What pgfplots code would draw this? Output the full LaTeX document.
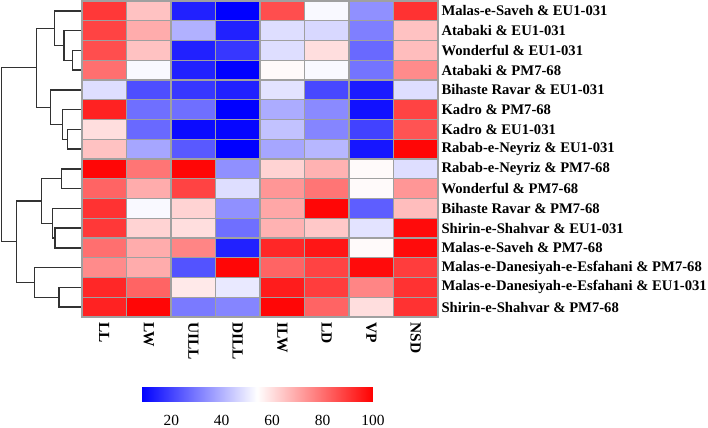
\documentclass[border=0pt]{standalone}
\usepackage{pgfplots}
\pgfplotsset{compat=1.18}
\usepackage{fontspec}
\setmainfont{Liberation Serif}
\definecolor{cellgrid}{RGB}{160,160,160}
\definecolor{dendro}{RGB}{50,50,50}
\begin{document}
\begin{tikzpicture}
\path[use as bounding box] (0,0) rectangle (708bp,428bp);
% dendrogram
\begin{axis}[
  at={(0bp,111bp)}, anchor=south west,
  scale only axis, width=82bp, height=316bp,
  xmin=0, xmax=82, ymin=0.5, ymax=16.5, y dir=reverse,
  hide axis, clip=false, unbounded coords=jump]
\addplot[dendro, line width=1.3bp] coordinates {
(82,3) (72.7,3) (72.7,4) (82,4) (nan,nan)
(82,2) (64,2) (64,3.5) (72.7,3.5) (nan,nan)
(82,1) (54.3,1) (54.3,2.75) (64,2.75) (nan,nan)
(82,7) (67.7,7) (67.7,8) (82,8) (nan,nan)
(82,6) (62.3,6) (62.3,7.5) (67.7,7.5) (nan,nan)
(82,5) (50.7,5) (50.7,6.75) (62.3,6.75) (nan,nan)
(54.3,1.875) (36.7,1.875) (36.7,5.875) (50.7,5.875) (nan,nan)
(82,9) (61.7,9) (61.7,10) (82,10) (nan,nan)
(82,12) (55,12) (55,13) (82,13) (nan,nan)
(82,11) (52.3,11) (52.3,12.5) (55,12.5) (nan,nan)
(61.7,9.5) (41.7,9.5) (41.7,11.75) (52.3,11.75) (nan,nan)
(82,15) (59,15) (59,16) (82,16) (nan,nan)
(82,14) (34.3,14) (34.3,15.5) (59,15.5) (nan,nan)
(41.7,10.625) (16.7,10.625) (16.7,14.75) (34.3,14.75) (nan,nan)
(36.7,3.875) (1.7,3.875) (1.7,12.6875) (16.7,12.6875)
};
\end{axis}
% heatmap
\begin{axis}[
  at={(82bp,111bp)}, anchor=south west,
  scale only axis, width=356bp, height=316bp,
  xmin=-0.5, xmax=7.5, ymin=0.5, ymax=16.5, y dir=reverse,
  colormap={bwr}{rgb255=(0,0,255) rgb255=(255,255,255) rgb255=(255,0,0)},
  point meta min=8, point meta max=100,
  axis on top,
  axis line style={cellgrid, line width=1.2bp},
  xtick={0,...,7},
  xticklabels={LL,LW,UILL,DILL,ILW,LD,VP,NSD},
  xticklabel style={rotate=-90, anchor=west, font=\fontsize{15.5}{17}\selectfont\bfseries},
  xticklabel shift=2bp,
  ytick={1,...,16},
  yticklabels={Malas-e-Saveh \& EU1-031, Atabaki \& EU1-031, Wonderful \& EU1-031, Atabaki \& PM7-68, Bihaste Ravar \& EU1-031, Kadro \& PM7-68, Kadro \& EU1-031, Rabab-e-Neyriz \& EU1-031, Rabab-e-Neyriz \& PM7-68, Wonderful \& PM7-68, Bihaste Ravar \& PM7-68, Shirin-e-Shahvar \& EU1-031, Malas-e-Saveh \& PM7-68, Malas-e-Danesiyah-e-Esfahani \& PM7-68, Malas-e-Danesiyah-e-Esfahani \& EU1-031, Shirin-e-Shahvar \& PM7-68},
  yticklabel pos=right,
  yticklabel style={anchor=west, font=\fontsize{14.7}{16}\selectfont\bfseries},
  major tick length=0, minor tick length=0,
  tick style={draw=none},
  minor xtick={0.5,1.5,...,6.5},
  minor ytick={1.5,2.5,...,15.5},
  xminorgrids, yminorgrids,
  minor grid style={cellgrid, line width=1.2bp},
  colorbar horizontal,
  colorbar style={
    at={(parent axis.south west)}, anchor=north west,
    xshift=59bp, yshift=-60bp,
    scale only axis, width=232bp, height=16bp,
    axis line style={draw=none},
    xtick={20,40,60,80,100},
    xticklabels={20,40,60,80,100},
    xticklabel style={rotate=0, anchor=north, font=\fontsize{15.5}{17}\selectfont},
    xticklabel shift=10bp,
    xticklabel pos=bottom,
    ytick=\empty, minor xtick={}, minor ytick={},
    major tick length=0, tick style={draw=none},
    /pgf/number format/assume math mode=true,
  },
]
\addplot[matrix plot*, mesh/cols=8, point meta=explicit] table[x=x, y=y, meta=v] {
x y v
0 1 90
1 1 65
2 1 14
3 1 8
4 1 86
5 1 53
6 1 34
7 1 91
0 2 88
1 2 69
2 2 40
3 2 14
4 2 48
5 2 47
6 2 31
7 2 65
0 3 86
1 3 65
2 3 14
3 3 18
4 3 48
5 3 60
6 3 27
7 3 66
0 4 80
1 4 53
2 4 14
3 4 8
4 4 55
5 4 53
6 4 29
7 4 75
0 5 48
1 5 22
2 5 18
3 5 14
4 5 49
5 5 21
6 5 13
7 5 48
0 6 94
1 6 28
2 6 28
3 6 8
4 6 39
5 6 33
6 6 11
7 6 88
0 7 60
1 7 27
2 7 10
3 7 9
4 7 43
5 7 32
6 7 20
7 7 85
0 8 65
1 8 38
2 8 24
3 8 8
4 8 38
5 8 41
6 8 12
7 8 99
0 9 99
1 9 79
2 9 99
3 9 34
4 9 62
5 9 68
6 9 55
7 9 48
0 10 82
1 10 69
2 10 88
3 10 48
4 10 73
5 10 79
6 10 55
7 10 73
0 11 91
1 11 53
2 11 62
3 11 34
4 11 70
5 11 99
6 11 25
7 11 66
0 12 90
1 12 62
2 12 60
3 12 28
4 12 68
5 12 64
6 12 49
7 12 98
0 13 80
1 13 69
2 13 76
3 13 14
4 13 93
5 13 96
6 13 55
7 13 98
0 14 75
1 14 69
2 14 23
3 14 99
4 14 82
5 14 88
6 14 98
7 14 89
0 15 93
1 15 82
2 15 58
3 15 50
4 15 95
5 15 89
6 15 76
7 15 91
0 16 94
1 16 99
2 16 30
3 16 32
4 16 99
5 16 82
6 16 60
7 16 91
};
\end{axis}
\end{tikzpicture}
\end{document}
